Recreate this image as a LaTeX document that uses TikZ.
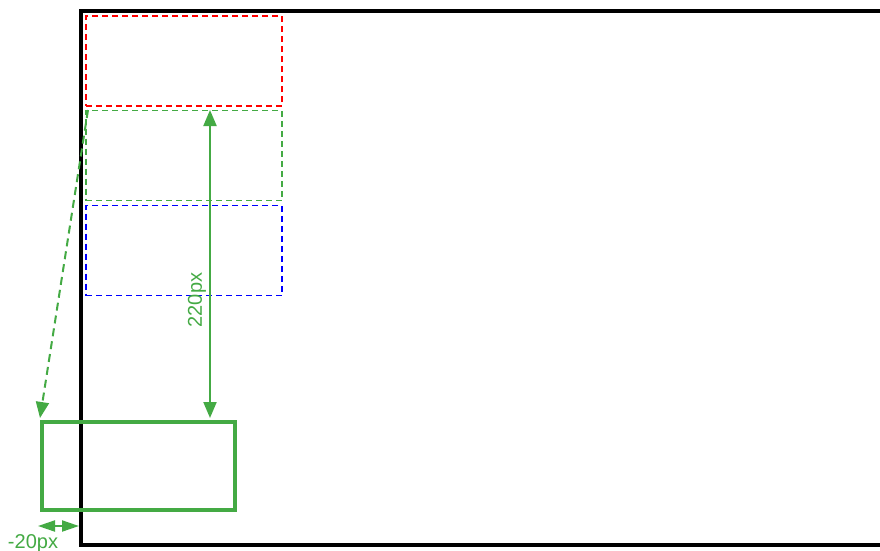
\documentclass[tikz,border=0pt]{standalone}
\usepackage{fontspec}
\setmainfont{Liberation Sans}
\usetikzlibrary{arrows.meta}
\definecolor{grn}{HTML}{44AA44}

\begin{document}
\begin{tikzpicture}[x=1pt, y=-1pt,
      ghost/.style={draw, line width=1.4pt, dash pattern=on 6pt off 4pt,
        minimum width=196pt, minimum height=90pt, inner sep=0pt},
      moved/.style={draw=grn, line width=4pt, minimum width=193pt,
        minimum height=88pt, inner sep=0pt},
      dim/.style={grn, line width=2pt},
      lbl/.style={text=grn, font=\fontsize{20}{24}\selectfont, inner sep=0pt},
      >={Triangle[length=16pt, width=13pt]}
    ]
    \clip (0,0) rectangle (880,551);
    \fill[white] (0,0) rectangle (880,551);
    % viewport
    \draw[line width=4pt] (900,11) -- (81,11) -- (81,545) -- (900,545);
    \coordinate (edge) at (81,526);
    % start, offset and final boxes
    \node[ghost, draw=red] (start) at (184,61) {};
    \node[ghost, draw=grn] (shift) at (184,155.5) {};
    \node[ghost, draw=blue] (plain) at (184,250.5) {};
    \node[moved] (final) at (138.5,466) {};
    % dimensions
    \coordinate (top) at (210,110);
    \coordinate (bot) at (210,418);
    \draw[dim, <->] (top) -- (bot);
    \node[lbl, rotate=90] (dy) at (197,300) {220px};
    \coordinate (from) at (88,110);
    \coordinate (to) at (40,418);
    \draw[dim, ->, dash pattern=on 8pt off 5pt] (from) -- (to);
    \coordinate (left) at (38,526);
    \draw[dim, {Triangle[length=17pt, width=11pt]}-{Triangle[length=17pt, width=11pt]}]
      (left) -- ([xshift=-2pt]edge);
    \node[lbl] (dx) at (33,543.5) {-20px};
  \end{tikzpicture}
\end{document}
